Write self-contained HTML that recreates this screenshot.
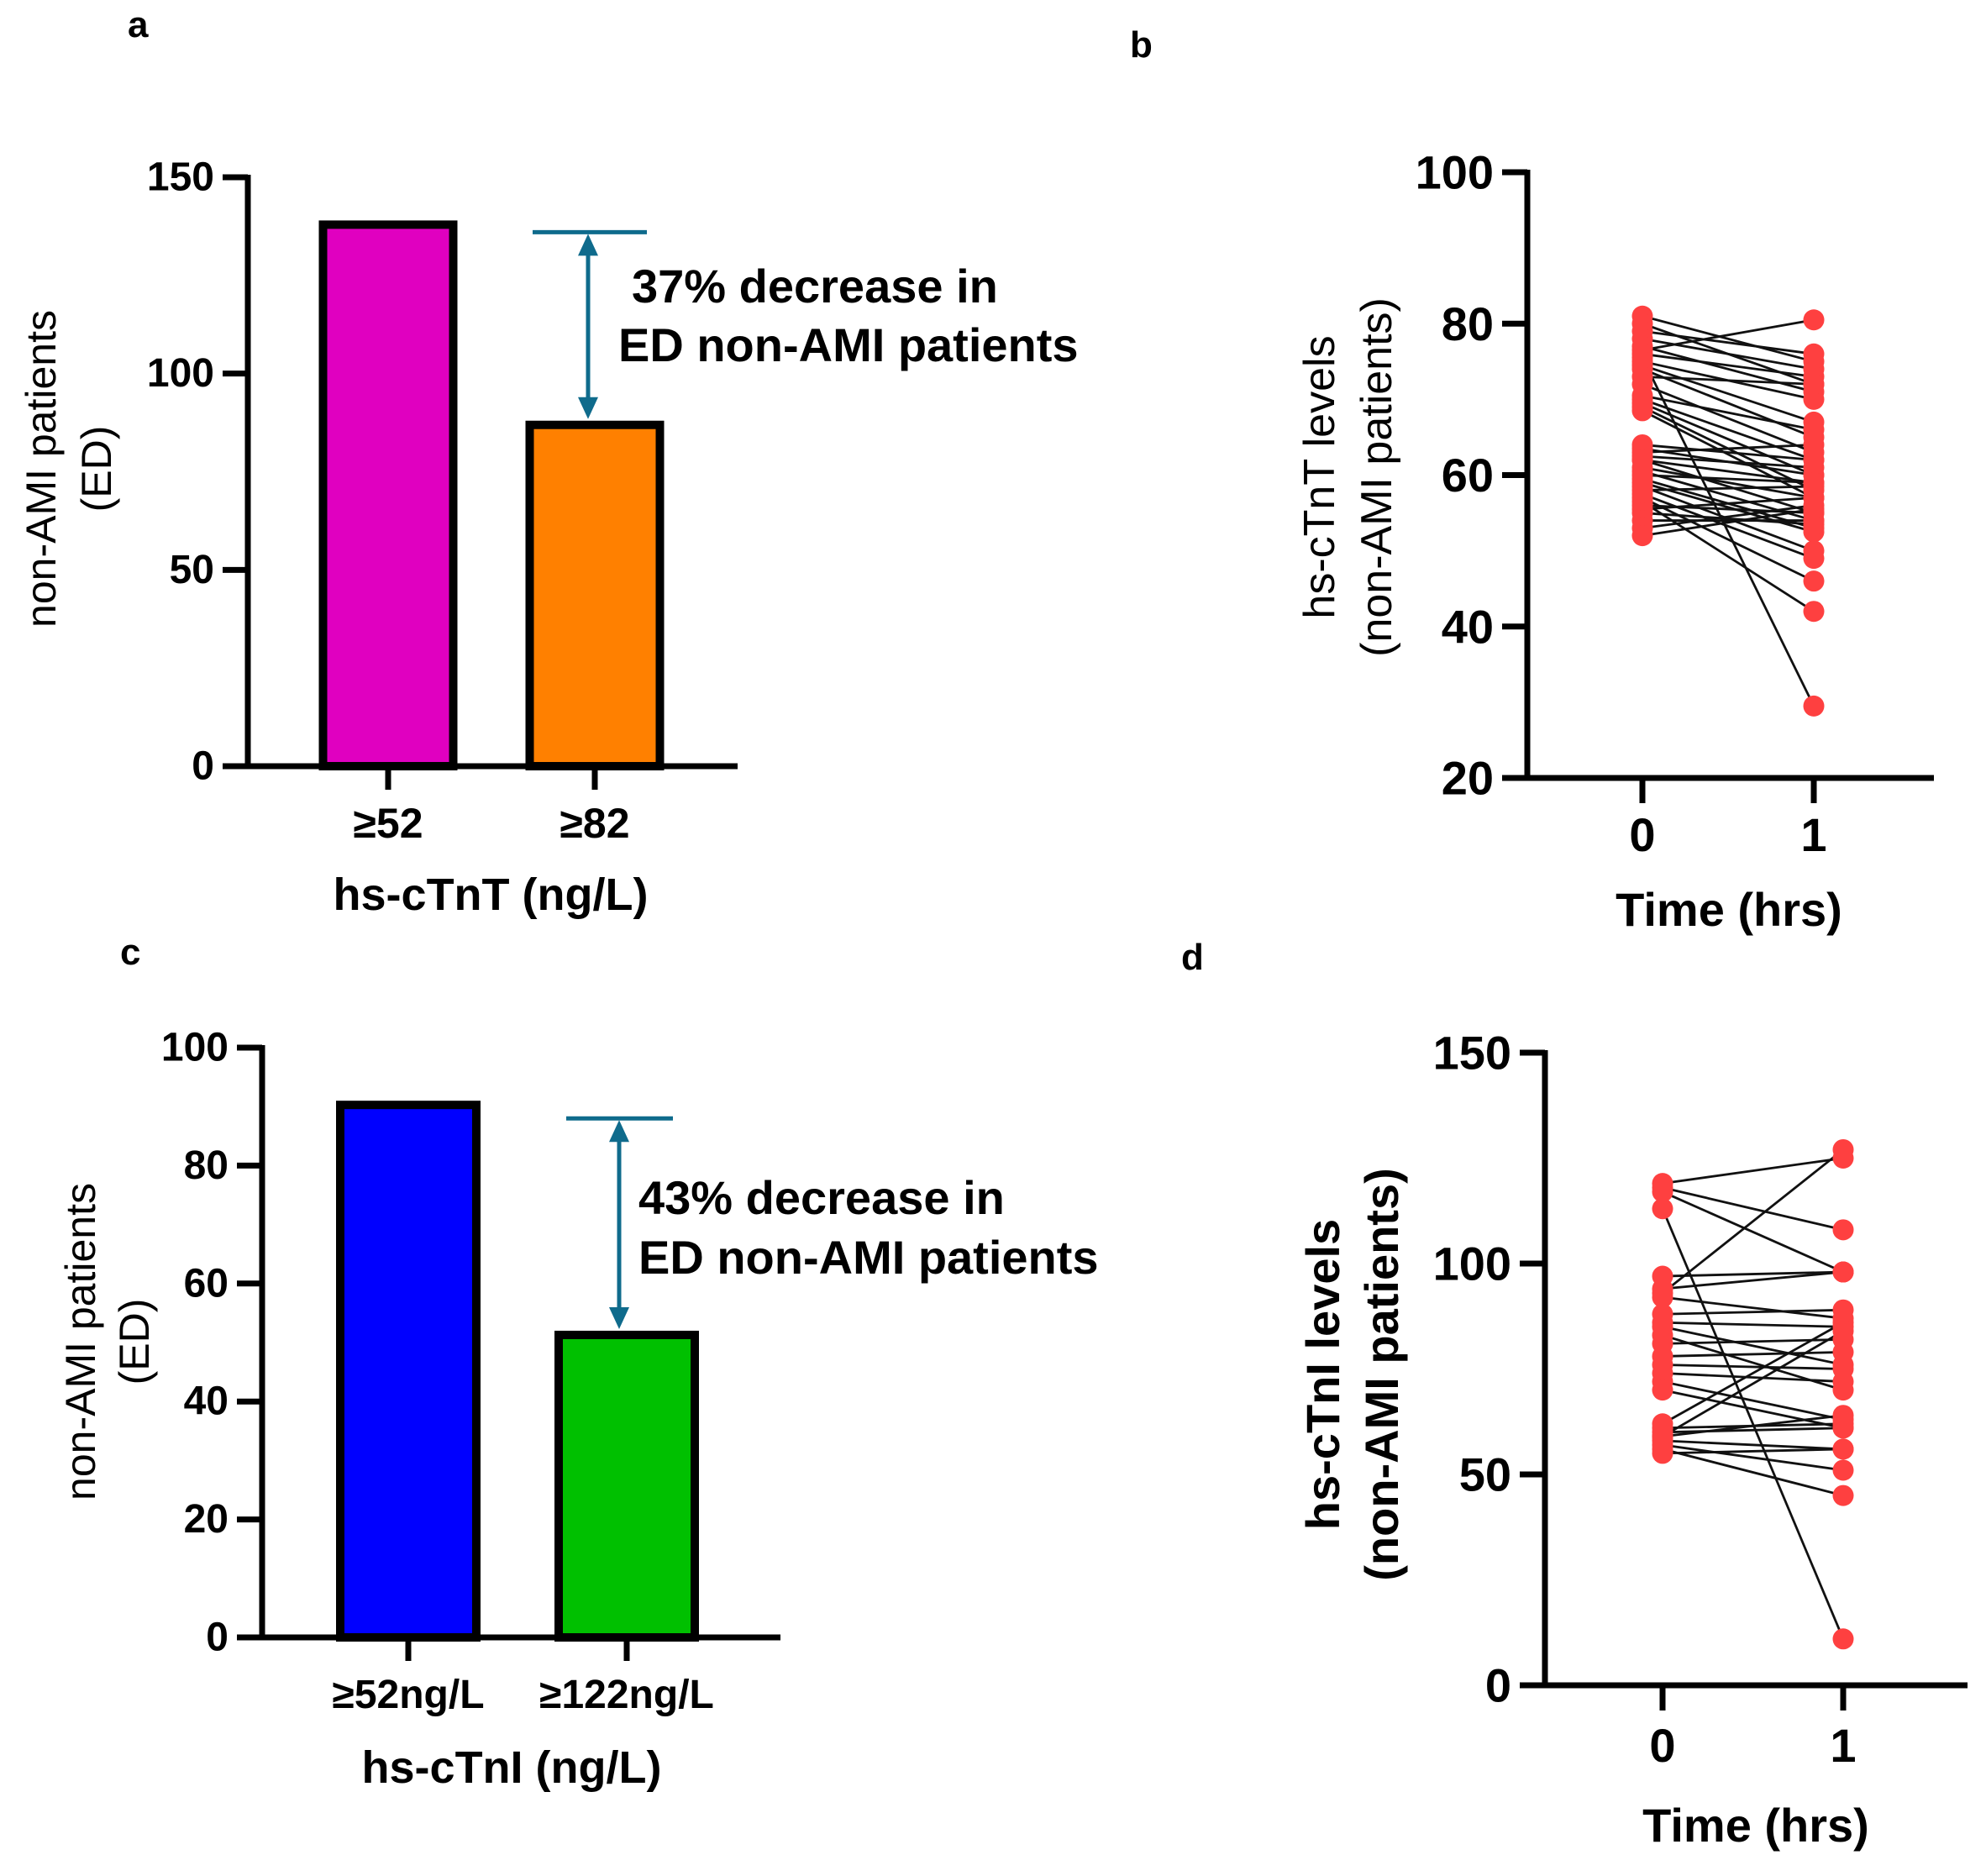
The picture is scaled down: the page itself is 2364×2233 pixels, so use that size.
<!DOCTYPE html>
<html><head><meta charset="utf-8"><style>
html,body{margin:0;padding:0;background:#fff;}
svg{display:block;font-family:"Liberation Sans",Arial,sans-serif;}
</style></head><body>
<svg id="fig" width="2364" height="2233" viewBox="0 0 2364 2233" xmlns="http://www.w3.org/2000/svg"></svg>
<script>
// ---- Panel a data ----
const aCats = ["≥52", "≥82"];
const aVals = [139, 88];
const aTicks = [0, 50, 100, 150];
// ---- Panel c data ----
const cCats = ["≥52ng/L", "≥122ng/L"];
const cVals = [91, 52];
const cTicks = [0, 20, 40, 60, 80, 100];
// ---- Panel b data (hs-cTnT at 0h and 1h) ----
const bTime0 = [81,80,79,78,77,76.5,76,75.5,75,74.5,74,73,72,70.5,70,69.5,69,68.5,64,63.5,63,62.5,62,61,60.5,60,59.5,59,58.5,58,57.5,57,56.5,56,55.5,55,54,53,52,62];
const bTime1 = [75,72,76,74,71,80.5,73,29.5,70,67,65,72,63,66,62,60,58,57,62,60,64,61,55,57,54,59,53,52.5,50,58.5,49,46,42,55,57,53.5,54,56,55.5,59];
const bTicks = [20, 40, 60, 80, 100];
// ---- Panel d data (hs-cTnI at 0h and 1h) ----
const dTime0 = [119,118,117,113,93,97,94,92,86,85,83,81,78,76,74,72,70,62,59,61,60,58,57,56,55,59,88];
const dTime1 = [125,108,98,11,127,98,98,87,85,76,70,82,79,75,72,63,61,86,84,62,61,56,51,45,56,64,89];
const dTicks = [0, 50, 100, 150];
const timeCats = ["0", "1"];

const NS = "http://www.w3.org/2000/svg";
const svg = document.getElementById("fig");
function mk(tag, attrs, parent) {
  const e = document.createElementNS(NS, tag);
  for (const k in attrs) e.setAttribute(k, attrs[k]);
  (parent || svg).appendChild(e);
  return e;
}
function txt(str, attrs, parent) { const t = mk("text", attrs, parent); t.textContent = str; return t; }

function axes(g, P, ticks, yScale, fontSize, weight) {
  const ax = mk("line", {x1:P.ax, y1:P.yTop-3, x2:P.ax, y2:P.y0+3.5, stroke:"#000","stroke-width":7}, g);
  
  
  const xl = mk("line", {x1:P.ax-30, y1:P.y0, x2:P.xEnd, y2:P.y0, stroke:"#000","stroke-width":7}, g);
  
  
  ticks.forEach(v => {
    const y = yScale(v);
    const tl = mk("line", {x1:P.ax-30, y1:y, x2:P.ax, y2:y, stroke:"#000","stroke-width":7}, g);
    
    
    const t = txt(String(v), {x:P.ax-40, y:y, "text-anchor":"end","dominant-baseline":"central","font-size":fontSize,"font-weight":weight}, g);
    
    
  });
}

function barPanel(name, P, cats, vals, ticks, colors, ann) {
  const g = mk("g", {}, svg);
  
  
  const yScale = v => P.y0 - (v - ticks[0]) * (P.y0 - P.yTop) / (ticks[ticks.length-1] - ticks[0]);
  const xPos = i => P.cx[0] + i * (P.cx[1] - P.cx[0]);
  cats.forEach((c, i) => {
    const x = xPos(i), top = yScale(vals[i]);
    const r = mk("rect", {x:x - P.bw/2 + 5, y:top + 5, width:P.bw - 10, height:P.y0 - top - 5, fill:colors[i], stroke:"#000","stroke-width":10}, g);
    
    
    const tk = mk("line", {x1:x, y1:P.y0, x2:x, y2:P.y0+28, stroke:"#000","stroke-width":7}, g);
    
    
    const tl = txt(c, {x:x, y:P.tickBase, "text-anchor":"middle","font-size":P.xFont,"font-weight":"bold"}, g);
    
    
  });
  axes(g, P, ticks, yScale, 48, "bold");
  const ay1 = yScale(ann.level), ay2 = yScale(vals[1]);
  const col = "#0f6b8c";
  const hl = mk("line", {x1:ann.x1, y1:ay1, x2:ann.x2, y2:ay1, stroke:col,"stroke-width":5}, g);
  
  
  const al = mk("line", {x1:ann.ax, y1:ay1+20, x2:ann.ax, y2:ay2-20, stroke:col,"stroke-width":5}, g);
  
  
  const h1 = mk("polygon", {points:`${ann.ax},${ay1+2} ${ann.ax-12},${ay1+28} ${ann.ax+12},${ay1+28}`, fill:col}, g);
  
  
  const h2 = mk("polygon", {points:`${ann.ax},${ay2-2} ${ann.ax-12},${ay2-28} ${ann.ax+12},${ay2-28}`, fill:col}, g);
  
  
  const t1 = txt(ann.line1, {x:ann.tx1, y:ann.ty1, "font-size":56,"font-weight":"bold"}, g);
  
  
  const t2 = txt("ED non-AMI patients", {x:ann.tx2, y:ann.ty2, "font-size":56,"font-weight":"bold"}, g);
  
  
  const xt = txt(P.xTitle, {x:P.xTitleX, y:P.xTitleY, "text-anchor":"middle","font-size":54,"font-weight":"bold"}, g);
  
  
  const yt = mk("text", {transform:`translate(${P.yTitleX},${P.yTitleY}) rotate(-90)`, "text-anchor":"middle","font-size":50}, g);
  
  
  const s1 = mk("tspan", {x:0, y:0}, yt); s1.textContent = "non-AMI patients";
  const s2 = mk("tspan", {x:0, y:P.yTitleGap}, yt); s2.textContent = "(ED)";
  const pl = txt(P.label, {x:P.labelX, y:P.labelY, "font-size":44,"font-weight":"bold"}, g);
  
  
}

function pairPanel(name, P, t0, t1, ticks) {
  const g = mk("g", {}, svg);
  
  
  const yScale = v => P.y0 - (v - ticks[0]) * (P.y0 - P.yTop) / (ticks[ticks.length-1] - ticks[0]);
  const xPos = i => P.cx[0] + i * (P.cx[1] - P.cx[0]);
  axes(g, P, ticks, yScale, 56, "bold");
  timeCats.forEach((c, i) => {
    const x = xPos(i);
    const tk = mk("line", {x1:x, y1:P.y0, x2:x, y2:P.y0+30, stroke:"#000","stroke-width":7}, g);
    
    
    const tl = txt(c, {x:x, y:P.tickBase, "text-anchor":"middle","font-size":56,"font-weight":"bold"}, g);
    
    
  });
  t0.forEach((v, i) => {
    const l = mk("line", {x1:xPos(0), y1:yScale(v), x2:xPos(1), y2:yScale(t1[i]), stroke:"#111","stroke-width":2.8}, g);
    
    
  });
  t0.forEach((v, i) => {
    const c0 = mk("circle", {cx:xPos(0), cy:yScale(v), r:12.5, fill:"#fe4040"}, g);
    
    
    const c1 = mk("circle", {cx:xPos(1), cy:yScale(t1[i]), r:12.5, fill:"#fe4040"}, g);
    
    
  });
  const xt = txt("Time (hrs)", {x:P.xTitleX, y:P.xTitleY, "text-anchor":"middle","font-size":56,"font-weight":"bold"}, g);
  
  
  const yt = mk("text", {transform:`translate(${P.yTitleX},${P.yTitleY}) rotate(-90)`, "text-anchor":"middle","font-size":P.yFont,"font-weight":P.yWeight}, g);
  
  
  const s1 = mk("tspan", {x:0, y:0}, yt); s1.textContent = P.yTitle;
  const s2 = mk("tspan", {x:0, y:P.yTitleGap}, yt); s2.textContent = "(non-AMI patients)";
  const pl = txt(P.label, {x:P.labelX, y:P.labelY, "font-size":44,"font-weight":"bold"}, g);
  
  
}

barPanel("panel-a", {ax:295, y0:912, yTop:211, xEnd:878, cx:[462,708], bw:165, tickBase:997, xFont:50,
  xTitle:"hs-cTnT (ng/L)", xTitleX:584, xTitleY:1083, yTitleX:66, yTitleY:558, yTitleGap:66, label:"a", labelX:152, labelY:44},
  aCats, aVals, aTicks, ["#e000c0", "#ff8000"],
  {level:136, x1:634, x2:770, ax:700, line1:"37% decrease in", tx1:752, ty1:360, tx2:736, ty2:430});

barPanel("panel-c", {ax:312, y0:1949, yTop:1247, xEnd:929, cx:[486,746], bw:172, tickBase:2033, xFont:48,
  xTitle:"hs-cTnI (ng/L)", xTitleX:609, xTitleY:2122, yTitleX:113, yTitleY:1597, yTitleGap:64, label:"c", labelX:143, labelY:1148},
  cCats, cVals, cTicks, ["#0000ff", "#00c000"],
  {level:88, x1:674, x2:801, ax:737, line1:"43% decrease in", tx1:760, ty1:1445, tx2:760, ty2:1516});

pairPanel("panel-b", {ax:1818, y0:926, yTop:205, xEnd:2302, cx:[1955,2159], tickBase:1013,
  xTitleX:2058, xTitleY:1102, yTitle:"hs-cTnT levels", yTitleX:1588, yTitleY:568, yTitleGap:68, yFont:52, yWeight:"normal",
  label:"b", labelX:1345, labelY:68}, bTime0, bTime1, bTicks);

pairPanel("panel-d", {ax:1839, y0:2006, yTop:1253, xEnd:2342, cx:[1979,2194], tickBase:2097,
  xTitleX:2090, xTitleY:2192, yTitle:"hs-cTnI levels", yTitleX:1594, yTitleY:1636, yTitleGap:70, yFont:56, yWeight:"bold",
  label:"d", labelX:1406, labelY:1154}, dTime0, dTime1, dTicks);
</script>
</body></html>
